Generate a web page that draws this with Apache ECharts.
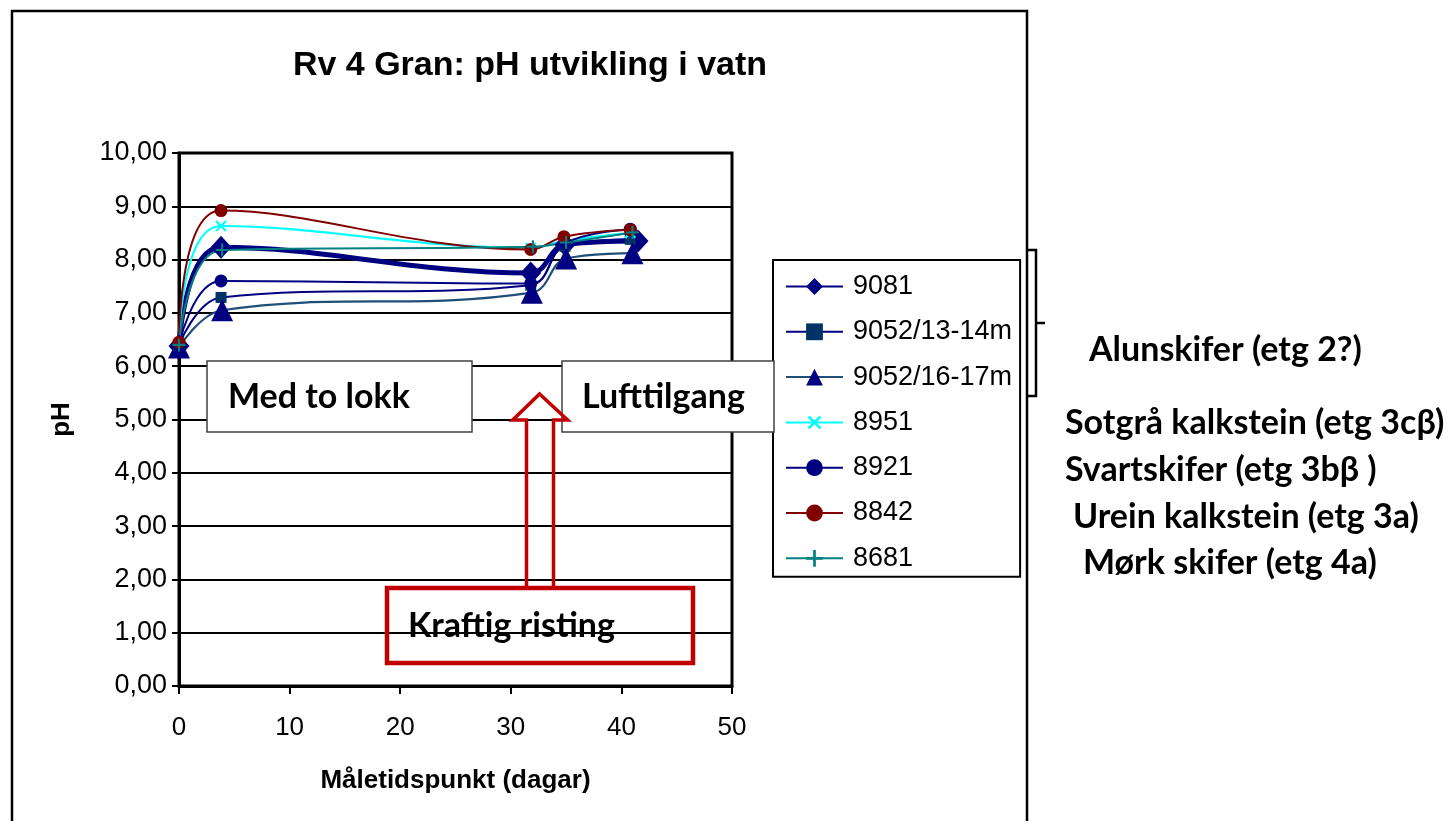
<!DOCTYPE html>
<html><head><meta charset="utf-8">
<script src="https://cdn.jsdelivr.net/npm/echarts@6/dist/echarts.min.js"></script>
<style>html,body{margin:0;padding:0;background:#fff}#c{width:1455px;height:821px}</style>
</head><body><div id="c"></div>
<script>
// ---------- data ----------
const chartTitle = 'Rv 4 Gran: pH utvikling i vatn';
const xAxisName = 'Måletidspunkt (dagar)';
const yAxisName = 'pH';
const yTickLabels = ['0,00','1,00','2,00','3,00','4,00','5,00','6,00','7,00','8,00','9,00','10,00'];
const seriesNames = ['9081','9052/13-14m','9052/16-17m','8951','8921','8842','8681'];

const days9081  = [0, 3.8, 31.8, 34.9, 41.5];
const ph9081    = [6.38, 8.23, 7.75, 8.28, 8.35];
const days9052a = [0, 3.8, 31.8, 34.9, 40.8];
const ph9052a   = [6.40, 7.29, 7.52, 8.25, 8.38];
const days9052b = [0, 3.9, 31.9, 35.0, 41.0];
const ph9052b   = [6.35, 7.05, 7.38, 8.02, 8.12];
const days8951  = [0, 3.8, 31.8, 34.9, 40.8];
const ph8951    = [6.42, 8.63, 8.22, 8.35, 8.50];
const days8921  = [0, 3.8, 31.8, 34.9, 40.8];
const ph8921    = [6.40, 7.60, 7.55, 8.30, 8.57];
const days8842  = [0, 3.8, 31.8, 34.8, 40.8];
const ph8842    = [6.45, 8.92, 8.19, 8.43, 8.56];
const days8681  = [0, 3.9, 32.0, 35.0, 41.0];
const ph8681    = [6.40, 8.18, 8.24, 8.32, 8.51];

const annotationTexts = ['Med to lokk', 'Lufttilgang', 'Kraftig risting'];
const rockTypes = ['Alunskifer (etg 2?)', 'Sotgrå kalkstein (etg 3cβ)', 'Svartskifer (etg 3bβ )', 'Urein kalkstein (etg 3a)', 'Mørk skifer (etg 4a)'];

// ---------- chart ----------
const pairs = (xs, ys) => xs.map((x, i) => [x, ys[i]]);
const plusPath = 'path://M4.2,0H5.8V4.2H10V5.8H5.8V10H4.2V5.8H0V4.2H4.2Z';
const ARIAL = 'Liberation Sans, Arial, sans-serif';
const CAL = 'Lato, Carlito, Calibri, sans-serif';

const styles = [
  {data: pairs(days9081, ph9081),   color: '#000080', lw: 5,   symbol: 'diamond',  size: [21, 23], fill: '#000080'},
  {data: pairs(days9052a, ph9052a), color: '#000080', lw: 2,   symbol: 'rect',     size: 11, fill: '#003366'},
  {data: pairs(days9052b, ph9052b), color: '#1F4E79', lw: 2.2, symbol: 'triangle', size: [22, 22], fill: '#000080'},
  {data: pairs(days8951, ph8951),   color: '#00FFFF', lw: 2.2, symbol: plusPath,   size: 14, fill: '#00FFFF', rot: 45},
  {data: pairs(days8921, ph8921),   color: '#000080', lw: 2,   symbol: 'circle',   size: 13, fill: '#000080'},
  {data: pairs(days8842, ph8842),   color: '#800000', lw: 2,   symbol: 'circle',   size: 13, fill: '#800000'},
  {data: pairs(days8681, ph8681),   color: '#008080', lw: 2,   symbol: plusPath,   size: 13, fill: '#008080'}
];

const series = styles.map((s, i) => ({
  name: seriesNames[i],
  type: 'line',
  data: s.data,
  smooth: 0.4,
  symbol: s.symbol,
  symbolSize: s.size,
  symbolRotate: s.rot || 0,
  showAllSymbol: true,
  lineStyle: {color: s.color, width: s.lw},
  itemStyle: {color: s.fill, borderWidth: 0},
  emphasis: {disabled: true},
  animation: false
}));

const chart = echarts.init(document.getElementById('c'), null, {renderer: 'canvas'});
chart.setOption({
  backgroundColor: '#fff',
  animation: false,
  title: {
    text: chartTitle, left: 525, top: 44, textAlign: 'center',
    textStyle: {fontFamily: ARIAL, fontWeight: 'bold', fontSize: 34, color: '#000'}
  },
  grid: {left: 179, right: 723, top: 153, bottom: 135, show: true, borderColor: '#000', borderWidth: 3, backgroundColor: '#fff'},
  xAxis: {
    type: 'value', min: 0, max: 50, interval: 10,
    name: xAxisName, nameLocation: 'middle', nameGap: 82,
    nameTextStyle: {fontFamily: ARIAL, fontWeight: 'bold', fontSize: 26, color: '#000'},
    axisLine: {show: true, onZero: false, lineStyle: {color: '#000', width: 3}},
    axisTick: {show: true, length: 8, lineStyle: {color: '#000', width: 2}},
    axisLabel: {fontFamily: ARIAL, fontSize: 26, color: '#000', margin: 29},
    splitLine: {show: false}
  },
  yAxis: {
    type: 'value', min: 0, max: 10, interval: 1,
    name: yAxisName, nameLocation: 'middle', nameGap: 104, nameRotate: 90,
    nameTextStyle: {fontFamily: ARIAL, fontWeight: 'bold', fontSize: 26, color: '#000'},
    axisLine: {show: true, lineStyle: {color: '#000', width: 3}},
    axisTick: {show: true, length: 7, lineStyle: {color: '#000', width: 2}},
    axisLabel: {fontFamily: ARIAL, fontSize: 27, color: '#000', margin: 12,
      formatter: v => yTickLabels[Math.round(v)]},
    splitLine: {show: true, lineStyle: {color: '#000', width: 2}}
  },
  legend: {
    orient: 'vertical', left: 773, top: 260,
    data: seriesNames,
    itemWidth: 57, itemHeight: 21, itemGap: 18.3,
    padding: [13, 8, 5, 12],
    borderColor: '#000', borderWidth: 2, backgroundColor: '#fff',
    selectedMode: false,
    textStyle: {fontFamily: ARIAL, fontSize: 27, color: '#000', lineHeight: 26, padding: [0, 0, 0, 5]}
  },
  series: series,
  graphic: [
    {type: 'rect', silent: true, z: 0, shape: {x: 12, y: 11, width: 1015, height: 840}, style: {fill: 'none', stroke: '#000', lineWidth: 2.5}},
    {type: 'rect', silent: true, z: 100, shape: {x: 207, y: 361, width: 265, height: 71}, style: {fill: '#fff', stroke: '#404040', lineWidth: 1.5}},
    {type: 'text', silent: true, z: 101, x: 228, y: 397, style: {text: annotationTexts[0], font: 'bold 34px ' + CAL, fill: '#000', verticalAlign: 'middle'}},
    {type: 'rect', silent: true, z: 100, shape: {x: 562, y: 361, width: 212, height: 71}, style: {fill: '#fff', stroke: '#404040', lineWidth: 1.5}},
    {type: 'text', silent: true, z: 101, x: 582, y: 397, style: {text: annotationTexts[1], font: 'bold 34px ' + CAL, fill: '#000', verticalAlign: 'middle'}},
    {type: 'polygon', silent: true, z: 100, shape: {points: [[539.6, 394], [567.6, 420], [553.5, 420], [553.5, 588], [526.5, 588], [526.5, 420], [512.7, 420]]}, style: {fill: 'none', stroke: '#C00000', lineWidth: 3.5}},
    {type: 'rect', silent: true, z: 100, shape: {x: 387, y: 588, width: 306, height: 75}, style: {fill: 'none', stroke: '#C00000', lineWidth: 4.5}},
    {type: 'text', silent: true, z: 101, x: 408, y: 626, style: {text: annotationTexts[2], font: 'bold 34px ' + CAL, fill: '#000', verticalAlign: 'middle'}},
    {type: 'polyline', silent: true, z: 100, shape: {points: [[1028, 250], [1036, 250], [1036, 396], [1028, 396]]}, style: {fill: 'none', stroke: '#000', lineWidth: 2.5}},
    {type: 'line', silent: true, z: 100, shape: {x1: 1036, y1: 323, x2: 1045, y2: 323}, style: {stroke: '#000', lineWidth: 2.5}},
    {type: 'text', silent: true, z: 101, x: 1089, y: 350, style: {text: rockTypes[0], font: 'bold 34px ' + CAL, fill: '#000', verticalAlign: 'middle'}},
    {type: 'text', silent: true, z: 101, x: 1065, y: 423, style: {text: rockTypes[1], font: 'bold 34px ' + CAL, fill: '#000', verticalAlign: 'middle'}},
    {type: 'text', silent: true, z: 101, x: 1065, y: 470, style: {text: rockTypes[2], font: 'bold 34px ' + CAL, fill: '#000', verticalAlign: 'middle'}},
    {type: 'text', silent: true, z: 101, x: 1073, y: 517, style: {text: rockTypes[3], font: 'bold 34px ' + CAL, fill: '#000', verticalAlign: 'middle'}},
    {type: 'text', silent: true, z: 101, x: 1083, y: 563, style: {text: rockTypes[4], font: 'bold 34px ' + CAL, fill: '#000', verticalAlign: 'middle'}}
  ]
});
</script>
</body></html>
